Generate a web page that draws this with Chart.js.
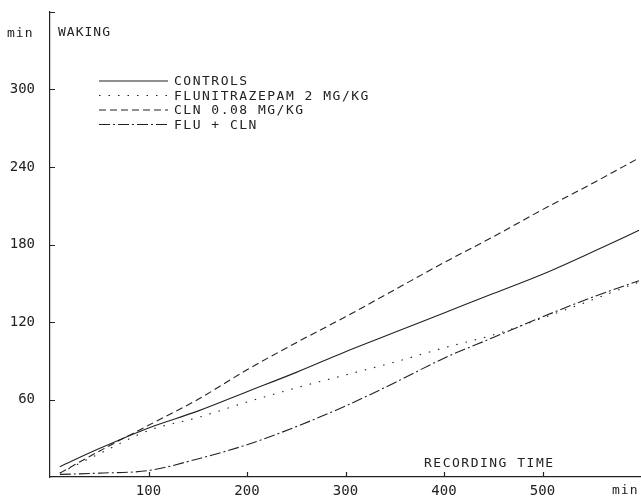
<!DOCTYPE html>
<html>
<head>
<meta charset="utf-8">
<style>
  html, body { margin: 0; padding: 0; background: #fff; }
  #wrap { width: 641px; height: 499px; }
</style>
</head>
<body>
<div id="wrap"><canvas id="chart"></canvas></div>
<script src="https://cdn.jsdelivr.net/npm/chart.js@4/dist/chart.umd.min.js"></script>
<script>
// recording time (min) and cumulative waking (min)
const times = [10, 50, 100, 150, 200, 250, 300, 350, 400, 450, 500, 550, 598];
const controls = [8, 22, 38, 51, 66, 81, 97, 112, 127, 142, 157, 174, 191];
const flunitrazepam = [3, 18, 36, 46, 58, 69, 79, 89, 100, 110, 123, 137, 151];
const cln = [3, 20, 40, 60, 83, 104, 124, 145, 166, 186, 207, 227, 247];
const fluCln = [2, 3, 5, 14, 25, 39, 55, 73, 92, 108, 124, 139, 152];

const xTicks = [100, 200, 300, 400, 500];
const yTicks = [60, 120, 180, 240, 300];
const labels = ["CONTROLS", "FLUNITRAZEPAM 2 MG/KG", "CLN 0.08 MG/KG", "FLU + CLN"];

const ink = "#222";
const mono = '"DejaVu Sans Mono", "Liberation Mono", monospace';

const pts = (ys) => times.map((t, i) => ({ x: t, y: ys[i] }));
const line = (label, ys, dash) => ({
  label,
  data: pts(ys),
  borderColor: ink,
  borderWidth: 1.1,
  borderDash: dash,
  pointRadius: 0,
  tension: 0.3,
  cubicInterpolationMode: "monotone",
  fill: false,
});

// ---------- inward ticks, legend and plotter-style texts ----------
const decor = {
  id: "decor",
  afterDraw(chart) {
    const { ctx, chartArea: a, scales } = chart;
    const x = scales.x, y = scales.y;
    ctx.save();
    ctx.strokeStyle = ink;
    ctx.lineWidth = 1.2;
    ctx.beginPath();
    xTicks.forEach((v) => {
      const px = Math.round(x.getPixelForValue(v)) + 0.5;
      ctx.moveTo(px, a.bottom);
      ctx.lineTo(px, a.bottom - 5);
    });
    yTicks.concat([360]).forEach((v) => {
      const py = Math.round(y.getPixelForValue(v)) + 0.5;
      ctx.moveTo(a.left, py);
      ctx.lineTo(a.left + 5, py);
    });
    ctx.stroke();

    // legend
    const x0 = 99, x1 = 168, tx = 174;
    chart.data.datasets.forEach((ds, i) => {
      const cy = 81 + i * 14.5;
      ctx.setLineDash(ds.borderDash || []);
      ctx.lineWidth = 1.1;
      ctx.beginPath();
      ctx.moveTo(x0, cy);
      ctx.lineTo(x1, cy);
      ctx.stroke();
    });
    ctx.setLineDash([]);

    ctx.fillStyle = ink;
    ctx.font = "13px " + mono;
    ctx.textBaseline = "middle";
    ctx.letterSpacing = "1.5px";
    labels.forEach((t, i) => ctx.fillText(t, tx, 82 + i * 14.5));

    ctx.letterSpacing = "1px";
    ctx.fillText("WAKING", 58, 33);
    ctx.fillText("min", 7, 34);
    ctx.fillText("min", 612, 491);
    ctx.letterSpacing = "1.5px";
    ctx.fillText("RECORDING TIME", 424, 464);
    ctx.restore();
  },
};

new Chart(document.getElementById("chart"), {
  type: "line",
  data: {
    datasets: [
      line(labels[0], controls, []),
      line(labels[1], flunitrazepam, [1.5, 8]),
      line(labels[2], cln, [7, 4]),
      line(labels[3], fluCln, [11, 3, 2, 3]),
    ],
  },
  options: {
    responsive: true,
    maintainAspectRatio: false,
    animation: false,
    layout: { padding: { top: 12, right: 0, left: 0, bottom: 0 } },
    plugins: { legend: { display: false }, tooltip: { enabled: false } },
    scales: {
      x: {
        type: "linear",
        min: 0,
        max: 600,
        grid: { display: false, drawTicks: false },
        border: { display: true, color: ink, width: 1.2 },
        ticks: {
          stepSize: 100,
          color: ink,
          padding: 6,
          maxRotation: 0,
          font: { family: mono, size: 14 },
          callback: (v) => (xTicks.includes(v) ? String(v) : ""),
        },
        afterFit: (s) => {
          s.height = 22;
          s.paddingLeft = 0;
          s.paddingRight = 0;
        },
      },
      y: {
        min: 0,
        max: 360,
        grid: { display: false, drawTicks: false },
        border: { display: true, color: ink, width: 1.2 },
        ticks: {
          stepSize: 60,
          color: ink,
          padding: 15,
          font: { family: mono, size: 14 },
          callback: (v) => (yTicks.includes(v) ? String(v) : ""),
        },
        afterFit: (s) => {
          s.width = 50;
          s.paddingTop = 0;
          s.paddingBottom = 0;
        },
      },
    },
  },
  plugins: [decor],
});
</script>
</body>
</html>
